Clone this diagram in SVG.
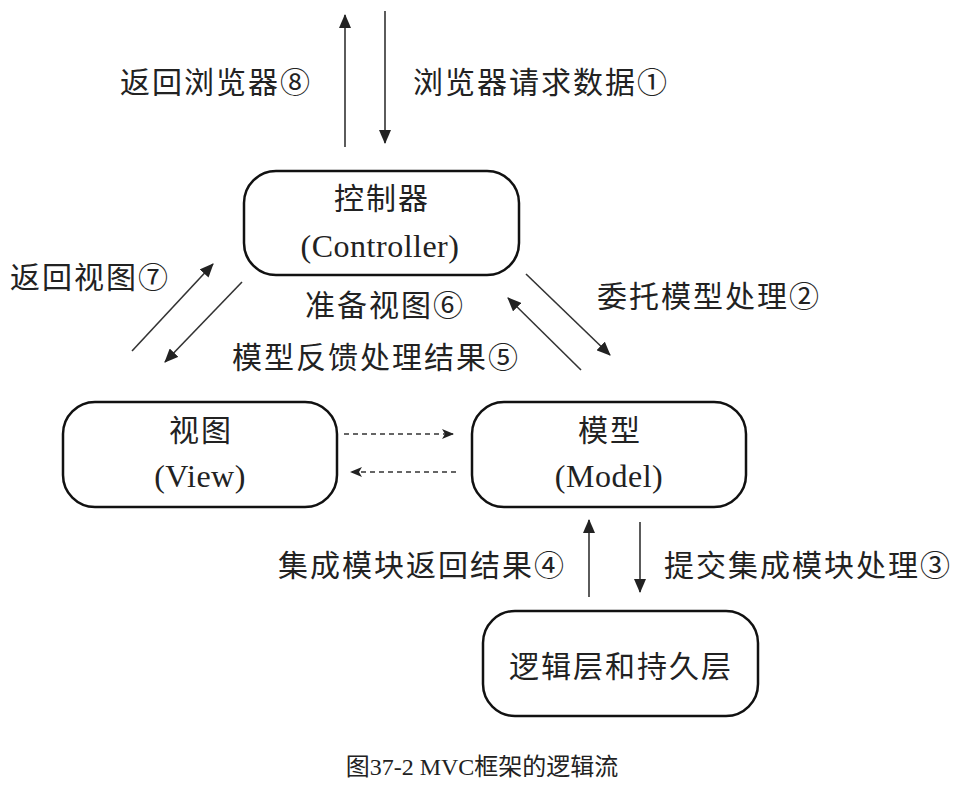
<svg xmlns="http://www.w3.org/2000/svg" width="967" height="786" viewBox="0 0 967 786">
<defs>
<marker id="ah" markerUnits="userSpaceOnUse" markerWidth="14" markerHeight="12" refX="13" refY="6" orient="auto"><path d="M0,0 L14,6 L0,12 z" fill="#222"/></marker>
<marker id="ahd" markerUnits="userSpaceOnUse" markerWidth="12" markerHeight="10" refX="11" refY="5" orient="auto"><path d="M0,0 L12,5 L0,10 L3,5 z" fill="#222"/></marker>
</defs>
<style>
.box{fill:#fff;stroke:#111;stroke-width:2.5}
.t{font-family:"Liberation Serif","Noto Sans CJK SC",serif;font-size:30px;fill:#222;letter-spacing:2px}
.c{text-anchor:middle}
.ln{stroke:#333;stroke-width:1.6;fill:none;marker-end:url(#ah)}
.dl{stroke:#333;stroke-width:1.4;fill:none;stroke-dasharray:5,4;marker-end:url(#ahd)}
</style>
<rect width="967" height="786" fill="#fff"/>
<g id="connectors">
<line class="ln" x1="345" y1="147" x2="345" y2="15"/>
<line class="ln" x1="385" y1="11" x2="385" y2="143"/>
<line class="ln" x1="132" y1="351" x2="213" y2="264"/>
<line class="ln" x1="242" y1="282" x2="165" y2="362"/>
<line class="ln" x1="526" y1="274" x2="610" y2="355"/>
<line class="ln" x1="581" y1="370" x2="508" y2="298"/>
<line class="dl" x1="344" y1="434" x2="453" y2="434"/>
<line class="dl" x1="456" y1="472" x2="351" y2="472"/>
<line class="ln" x1="589" y1="597" x2="589" y2="520"/>
<line class="ln" x1="640" y1="522" x2="640" y2="592"/>
</g>
<g id="labels">
<text class="t" x="120" y="93">返回浏览器⑧</text>
<text class="t" x="413" y="93">浏览器请求数据①</text>
<text class="t" x="10" y="288">返回视图⑦</text>
<text class="t" x="305" y="316">准备视图⑥</text>
<text class="t" x="232" y="368">模型反馈处理结果⑤</text>
<text class="t" x="597" y="307">委托模型处理②</text>
<text class="t" x="278" y="576">集成模块返回结果④</text>
<text class="t" x="664" y="576">提交集成模块处理③</text>
</g>
<g id="controller">
<rect class="box" x="244" y="171" width="275" height="104" rx="32"/>
<text class="t c" x="382" y="209">控制器</text>
<text x="380" y="257" text-anchor="middle" font-family="'Liberation Serif',serif" font-size="32" fill="#222" letter-spacing="0.5">(Controller)</text>
</g>
<g id="view">
<rect class="box" x="63" y="402" width="274" height="105" rx="32"/>
<text class="t c" x="201" y="441">视图</text>
<text x="200" y="487" text-anchor="middle" font-family="'Liberation Serif',serif" font-size="32" fill="#222" letter-spacing="0.5">(View)</text>
</g>
<g id="model">
<rect class="box" x="472" y="402" width="274" height="105" rx="32"/>
<text class="t c" x="610" y="441">模型</text>
<text x="609" y="487" text-anchor="middle" font-family="'Liberation Serif',serif" font-size="32" fill="#222" letter-spacing="0.5">(Model)</text>
</g>
<g id="logic">
<rect class="box" x="483" y="611" width="275" height="105" rx="32"/>
<text class="t c" x="621" y="677">逻辑层和持久层</text>
</g>
<text x="482" y="775" text-anchor="middle" font-family="'Liberation Serif','Noto Sans CJK SC',serif" font-size="24" fill="#222">图37-2 MVC框架的逻辑流</text>
</svg>
